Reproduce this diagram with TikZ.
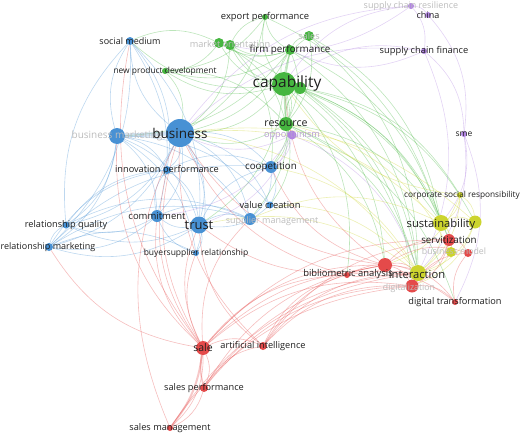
\documentclass[tikz,border=0pt]{standalone}
\usepackage{fontspec}
\setmainfont{Open Sans}
\usepackage{tikz}
\usetikzlibrary{backgrounds}
\usepackage{xcolor}
\definecolor{vosblue}{RGB}{72,145,212}
\definecolor{vosgreen}{RGB}{70,182,64}
\definecolor{vosred}{RGB}{228,74,74}
\definecolor{vosyellow}{RGB}{204,212,46}
\definecolor{vospurple}{RGB}{178,134,226}
\definecolor{lblgray}{RGB}{30,30,30}
\definecolor{fadegray}{RGB}{188,188,188}
\newcommand{\kwsize}[1]{\fontsize{#1}{#1}\selectfont}

\tikzset{
  kw/.style={circle, fill=#1, inner sep=0pt},
  lbl/.style={text=lblgray, inner sep=0pt, font=\kwsize{9}},
  faded/.style={text=fadegray, inner sep=0pt, font=\kwsize{9}},
  link/.style={draw=#1, opacity=0.36, line width=0.6pt},
}

\begin{document}
\begin{tikzpicture}[x=1pt, y=-1pt]
    \useasboundingbox (0,0) rectangle (520,434);

    % Blue cluster
    \node[kw=vosblue, minimum size=28] (bus) at (180,133) {};
    \node[kw=vosblue, minimum size=16] (bm) at (117,136) {};
    \node[kw=vosblue, minimum size=8] (sm) at (130,41) {};
    \node[kw=vosblue, minimum size=8] (ip) at (167,170) {};
    \node[kw=vosblue, minimum size=12] (coop) at (271,167) {};
    \node[kw=vosblue, minimum size=7] (vc) at (270,205) {};
    \node[kw=vosblue, minimum size=12] (supm) at (250,219) {};
    \node[kw=vosblue, minimum size=12] (com) at (157,216) {};
    \node[kw=vosblue, minimum size=17] (tr) at (199,225) {};
    \node[kw=vosblue, minimum size=6] (bsr) at (196,253) {};
    \node[kw=vosblue, minimum size=7] (rq) at (66,225) {};
    \node[kw=vosblue, minimum size=8] (rm) at (49,247) {};

    % Green cluster
    \node[kw=vosgreen, minimum size=24] (cap) at (284,84) {};
    \node[kw=vosgreen, minimum size=12] (capb) at (300,88) {};
    \node[kw=vosgreen, minimum size=10] (fp) at (290,50) {};
    \node[kw=vosgreen, minimum size=6] (ep) at (265,17) {};
    \node[kw=vosgreen, minimum size=10] (moa) at (219,43) {};
    \node[kw=vosgreen, minimum size=10] (mob) at (230,45) {};
    \node[kw=vosgreen, minimum size=10] (sal) at (309,36) {};
    \node[kw=vosgreen, minimum size=14] (res) at (286,124) {};
    \node[kw=vosgreen, minimum size=6] (npd) at (165,71) {};

    % Purple cluster
    \node[kw=vospurple, minimum size=6] (scr) at (411,6) {};
    \node[kw=vospurple, minimum size=6] (chi) at (428,15) {};
    \node[kw=vospurple, minimum size=6] (scf) at (424,51) {};
    \node[kw=vospurple, minimum size=9] (opp) at (292,135) {};
    \node[kw=vospurple, minimum size=6] (sme) at (464,134) {};

    % Yellow cluster
    \node[kw=vosyellow, minimum size=6] (csr) at (460,195) {};
    \node[kw=vosyellow, minimum size=16] (sus) at (441,223) {};
    \node[kw=vosyellow, minimum size=13] (susb) at (475,222) {};
    \node[kw=vosyellow, minimum size=10] (bmy) at (451,252) {};
    \node[kw=vosyellow, minimum size=16] (int) at (418,273) {};

    % Red cluster
    \node[kw=vosred, minimum size=12] (serv) at (449,240) {};
    \node[kw=vosred, minimum size=8] (bmr) at (468,253) {};
    \node[kw=vosred, minimum size=6] (ba) at (347,275) {};
    \node[kw=vosred, minimum size=14] (rbig) at (385,265) {};
    \node[kw=vosred, minimum size=13] (dig) at (412,286) {};
    \node[kw=vosred, minimum size=6] (dt) at (455,302) {};
    \node[kw=vosred, minimum size=14] (sale) at (203,348) {};
    \node[kw=vosred, minimum size=8] (ai) at (263,346) {};
    \node[kw=vosred, minimum size=8] (sp) at (204,388) {};
    \node[kw=vosred, minimum size=6] (smg) at (170,428) {};

    % Links
    \begin{scope}[on background layer]
        \foreach \a/\b in {bus/sm, bus/ip, bus/com, bus/tr, bus/coop, bus/vc, bus/rm, bus/rq,
                           bus/bsr, bus/supm, bm/rm, bm/rq, bm/sm, bm/com, bm/tr, bm/ip,
                           sm/rm, tr/com, tr/rq, tr/rm, tr/supm, tr/bsr, tr/coop, com/rq,
                           com/rm, com/ip, com/supm, rm/rq, rm/supm, coop/vc, coop/supm,
                           ip/tr, ip/coop, sm/tr, bm/bsr, vc/tr, bsr/com, rm/ip, rq/ip,
                           rm/coop, rq/supm, sm/ip, bm/supm, bm/vc, sm/com, rm/bsr, rq/sm}
            \draw[link=vosblue] (\a) to[bend left=24] (\b);
        \foreach \a/\b in {cap/capb, cap/fp, cap/res, cap/ep, cap/moa, cap/mob, cap/sal, cap/npd,
                           fp/ep, fp/moa, fp/mob, fp/res, fp/sal, moa/mob, mob/ep, moa/npd,
                           res/capb, cap/bus, res/bus, fp/bus, mob/bus, npd/bus, cap/coop,
                           res/coop, cap/sm, sal/res, ep/npd, cap/tr, capb/int, cap/sus,
                           res/sus, cap/serv, res/int, capb/csr, fp/sus, sal/int, cap/rbig,
                           res/dt, moa/int, capb/susb, ep/sus, fp/int, capb/serv, res/vc,
                           cap/supm, moa/res, npd/res, fp/npd, sm/moa, cap/ba, fp/bm,
                           capb/dig, res/rbig, sal/sus, mob/coop, ep/bus}
            \draw[link=vosgreen] (\a) to[bend left=24] (\b);
        \foreach \a/\b in {scr/chi, scr/scf, bus/scr, cap/scr, chi/sme, scf/sme, bus/scf,
                           cap/scf, sme/int, sme/sus, opp/tr, opp/coop, opp/res, opp/bus,
                           scf/int, opp/int, sme/dt, scr/moa, opp/com, scf/fp}
            \draw[link=vospurple] (\a) to[bend left=24] (\b);
        \foreach \a/\b in {csr/sus, csr/susb, sus/susb, sus/serv, sus/int, sus/bmy, susb/int,
                           bmy/int, csr/int, bus/sus, bus/int, coop/int, supm/sus, vc/int,
                           susb/dig, csr/rbig, bus/susb, tr/int, csr/cap, bmy/serv, res/bmy}
            \draw[link=vosyellow] (\a) to[bend left=24] (\b);
        \foreach \a/\b in {sale/ai, sale/sp, sale/smg, sp/smg, sale/int, sale/dig, sale/rbig,
                           sale/ba, ai/int, ai/dig, ai/rbig, ai/ba, rbig/int, rbig/dig,
                           rbig/ba, int/dig, dig/dt, dt/bmr, serv/bmr, serv/int, serv/dig,
                           rbig/serv, sale/tr, sale/com, sale/bus, ai/bus, smg/bus, sp/ai,
                           rbig/bus, rbig/cap, ba/dt, smg/int, sale/rm, sale/bm, sp/int,
                           rbig/dt, ai/serv, sale/serv, smg/dig, sale/supm, sale/bsr,
                           rbig/tr, dig/bmr, ba/int, sp/rbig, sale/sm, rbig/coop, ba/bus,
                           ai/tr, sp/dig, rbig/bmr, sale/ip}
            \draw[link=vosred] (\a) to[bend left=24] (\b);
        \draw[link=vosblue, line width=4pt, opacity=0.25] (bm) -- (bus);
        \draw[link=vosred, line width=2pt, opacity=0.3] (sale) to[bend left=15] (smg);
        \draw[link=vosred, line width=1.6pt, opacity=0.3] (sale) to[bend right=12] (sp);
        \draw[link=vosgreen, line width=2pt, opacity=0.35] (cap) -- (res);
        \draw[link=vosgreen, line width=1.6pt, opacity=0.35] (cap) -- (fp);
    \end{scope}

    % Labels
    \node[faded, font=\kwsize{10}] (bm-l) at (bm) {business marketing};
    \node[lbl, font=\kwsize{13.5}] (bus-l) at (bus) {business};
    \node[lbl] (sm-l) at (sm) {social medium};
    \node[lbl, font=\kwsize{9.2}] (ip-l) at (ip) {innovation performance};
    \node[lbl, font=\kwsize{9.8}] (coop-l) at (coop) {coopetition};
    \node[lbl, font=\kwsize{9.3}] (vc-l) at (vc) {value creation};
    \node[faded] (supm-l) at (272,221) {supplier management};
    \node[lbl, font=\kwsize{9.5}] (com-l) at (com) {commitment};
    \node[lbl, font=\kwsize{13}] (tr-l) at (tr) {trust};
    \node[lbl, font=\kwsize{8.5}] (bsr-l) at (bsr) {buyersupplier relationship};
    \node[lbl, font=\kwsize{9.2}] (rq-l) at (rq) {relationship quality};
    \node[lbl] (rm-l) at (48,247) {relationship marketing};

    \node[lbl, font=\kwsize{15.5}] (cap-l) at (287,83) {capability};
    \node[lbl, font=\kwsize{9.8}] (fp-l) at (fp) {firm performance};
    \node[lbl, font=\kwsize{9.4}] (ep-l) at (ep) {export performance};
    \node[faded, font=\kwsize{9.2}] (mo-l) at (230,44) {market orientation};
    \node[faded, font=\kwsize{9.2}] (sal-l) at (sal) {sales};
    \node[lbl, font=\kwsize{10.6}] (res-l) at (res) {resource};
    \node[lbl, font=\kwsize{8.4}] (npd-l) at (npd) {new product development};

    \node[faded, font=\kwsize{9}] (scr-l) at (scr) {supply chain resilience};
    \node[lbl] (chi-l) at (chi) {china};
    \node[lbl, font=\kwsize{9.3}] (scf-l) at (scf) {supply chain finance};
    \node[faded, font=\kwsize{9.2}, text=vospurple!55!fadegray] (opp-l) at (opp) {opportunism};
    \node[lbl, font=\kwsize{8.5}] (sme-l) at (sme) {sme};

    \node[lbl, font=\kwsize{8.3}] (csr-l) at (462,195) {corporate social responsibility};
    \node[lbl, font=\kwsize{11.2}] (sus-l) at (441,225) {sustainability};
    \node[lbl, font=\kwsize{9.8}] (serv-l) at (serv) {servitization};
    \node[faded, font=\kwsize{8.8}] (bmod-l) at (454,251) {business model};
    \node[lbl, font=\kwsize{11.2}] (int-l) at (417,274) {interaction};

    \node[lbl, font=\kwsize{9.4}] (ba-l) at (348,274) {bibliometric analysis};
    \node[faded, font=\kwsize{8.8}] (dig-l) at (409,288) {digitalization};
    \node[lbl, font=\kwsize{9.2}] (dt-l) at (dt) {digital transformation};
    \node[lbl, font=\kwsize{10.5}] (sale-l) at (sale) {sale};
    \node[lbl, font=\kwsize{9.2}] (ai-l) at (ai) {artificial intelligence};
    \node[lbl, font=\kwsize{9.2}] (sp-l) at (sp) {sales performance};
    \node[lbl, font=\kwsize{9.2}] (smg-l) at (smg) {sales management};
\end{tikzpicture}
\end{document}
